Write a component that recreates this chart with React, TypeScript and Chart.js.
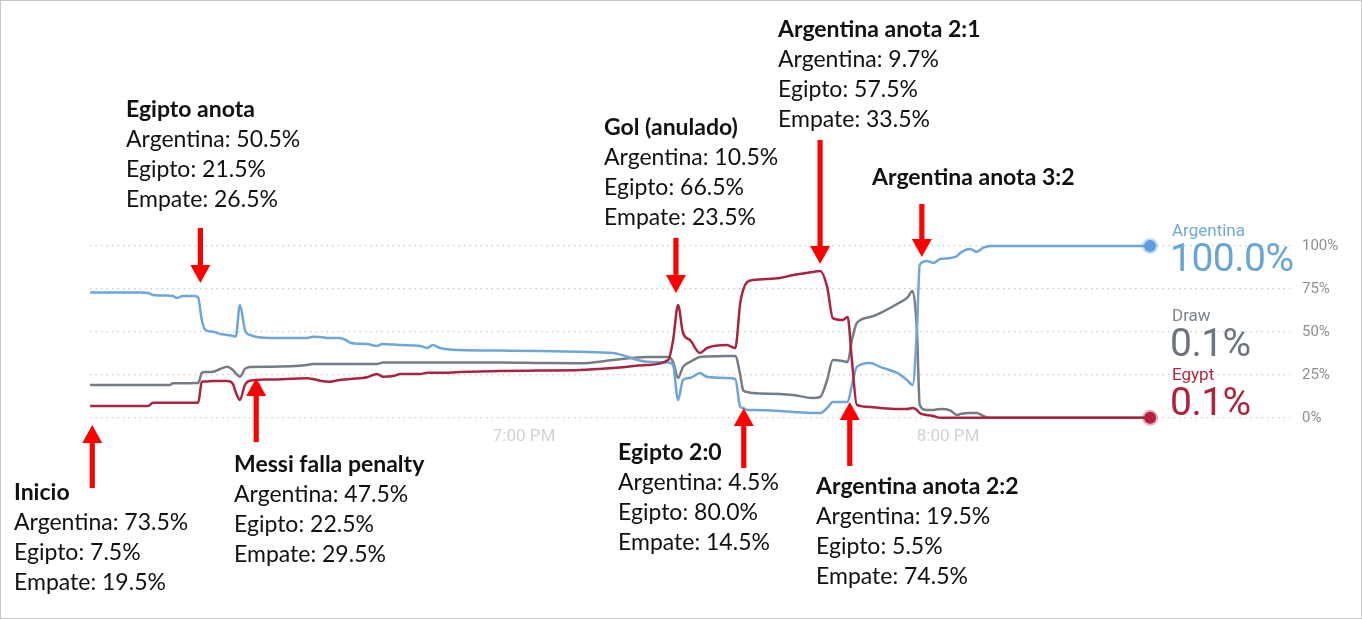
import React, { useEffect, useRef } from "react";
import { Chart, registerables } from "chart.js";

Chart.register(...registerables);

// minutes since 6:00 PM
const times = [
  -1.4, 5.7, 6.8, 7.5, 9.9, 10.3, 10.9, 11.7, 13.4, 13.9, 14.4, 14.9, 16.0, 17.0, 18.0, 18.8, 19.2, 19.8, 20.5, 21.2,
  24.1, 29.3, 30.1, 31.1, 32.5, 33.9, 35.0, 35.4, 37.8, 39.2, 40.0, 41.5, 42.5, 45.3, 46.3, 47.1, 48.1, 50.9, 56.6, 62.3,
  67.9, 72.6, 77.4, 80.4, 81.1, 81.8, 82.5, 83.5, 84.9, 85.9, 88.7, 89.9, 90.6, 91.0, 91.6, 92.4, 96.2, 98.1, 100.9, 101.9,
  102.9, 103.7, 105.1, 105.8, 106.4, 107.1, 109.0, 110.4, 112.8, 114.2, 115.0, 115.6, 116.0, 117.0, 117.9, 118.9, 120.3, 121.3, 121.7, 123.1,
  124.1, 125.0, 126.0, 148.6,
];

const argentina = [
  73.0, 73.0, 72.7, 71.5, 71.1, 70.9, 69.8, 70.9, 70.9, 69.8, 57.0, 51.2, 50.2, 48.8, 48.3, 47.7, 47.4, 65.7, 51.2, 48.3,
  46.5, 46.5, 47.3, 47.1, 46.5, 46.5, 44.8, 43.8, 43.0, 41.9, 43.0, 42.7, 42.4, 41.9, 40.7, 42.4, 40.7, 39.5, 39.2, 39.0,
  38.5, 37.8, 32.7, 32.3, 30.8, 10.5, 22.1, 23.3, 26.2, 23.8, 23.3, 22.7, 6.4, 5.8, 4.7, 4.7, 4.1, 3.5, 2.9, 2.9,
  5.8, 9.3, 9.3, 9.3, 19.2, 29.7, 32.0, 29.7, 26.2, 22.1, 19.2, 51.2, 89.0, 91.3, 90.1, 92.4, 93.0, 94.2, 95.9, 98.3,
  96.7, 99.0, 100, 100,
];

const draw = [
  19.2, 19.2, 19.2, 19.2, 19.2, 20.2, 20.2, 20.2, 20.3, 20.3, 26.2, 26.7, 26.9, 28.5, 29.8, 27.9, 26.0, 24.0, 28.5, 29.7,
  29.8, 30.8, 31.4, 31.4, 31.4, 31.4, 31.4, 31.4, 31.4, 31.4, 32.2, 32.2, 32.2, 32.2, 32.2, 32.2, 32.2, 32.3, 32.3, 32.0,
  31.8, 33.7, 35.5, 35.5, 32.6, 23.3, 29.7, 32.6, 35.5, 35.8, 36.0, 36.0, 25.0, 16.3, 15.1, 14.5, 14.0, 13.4, 11.6, 12.2,
  22.1, 33.7, 33.1, 32.6, 45.3, 55.2, 58.7, 61.0, 66.3, 69.8, 73.8, 51.2, 7.6, 4.7, 4.7, 5.2, 4.4, 1.7, 2.3, 2.9,
  2.9, 1.2, 0.1, 0.1,
];

const egypt = [
  7.0, 7.0, 7.0, 8.9, 8.9, 8.9, 8.9, 8.9, 8.9, 8.9, 21.1, 21.2, 21.5, 21.5, 21.5, 19.8, 15.1, 10.5, 19.2, 21.7,
  22.4, 23.1, 22.7, 21.7, 21.1, 22.1, 22.5, 22.7, 23.7, 25.6, 24.0, 24.4, 25.6, 25.6, 26.3, 26.3, 26.3, 26.7, 27.3, 27.6,
  27.9, 29.1, 30.8, 33.7, 45.3, 65.7, 49.4, 45.3, 37.8, 40.7, 42.4, 40.7, 66.9, 74.4, 79.1, 80.2, 81.4, 83.1, 84.9, 85.5,
  76.2, 58.1, 57.0, 58.7, 33.7, 7.6, 6.4, 5.8, 5.2, 5.2, 5.8, 4.7, 2.9, 1.7, 1.2, 0.1, 0.1, 0.1, 0.1, 0.1,
  0.1, 0.1, 0.1, 0.1,
];

const xTickValues = [60, 120];
const xTickLabels = ["7:00 PM", "8:00 PM"];
const yTickValues = [0, 25, 50, 75, 100];

// Event arrows: time (x), tip value, tail value (y units)
const arrowTimes = [-1.1, 14.2, 22.1, 81.5, 101.9, 116.3, 91.1, 106.1];
const arrowTips = [-4.1, 78.5, 23.3, 72.7, 89.5, 93.6, 5.8, 9.3];
const arrowTails = [-40.7, 110.5, -14.0, 104.7, 161.6, 124.4, -29.1, -27.9];

const eventTitles = [
  "Inicio",
  "Egipto anota",
  "Messi falla penalty",
  "Gol (anulado)",
  "Argentina anota 2:1",
  "Argentina anota 3:2",
  "Egipto 2:0",
  "Argentina anota 2:2",
];
const eventLines = [
  ["Argentina: 73.5%", "Egipto: 7.5%", "Empate: 19.5%"],
  ["Argentina: 50.5%", "Egipto: 21.5%", "Empate: 26.5%"],
  ["Argentina: 47.5%", "Egipto: 22.5%", "Empate: 29.5%"],
  ["Argentina: 10.5%", "Egipto: 66.5%", "Empate: 23.5%"],
  ["Argentina: 9.7%", "Egipto: 57.5%", "Empate: 33.5%"],
  [],
  ["Argentina: 4.5%", "Egipto: 80.0%", "Empate: 14.5%"],
  ["Argentina: 19.5%", "Egipto: 5.5%", "Empate: 74.5%"],
];
const eventPos = [
  [14, 476],
  [126, 93],
  [234, 448],
  [604, 111],
  [778, 13],
  [872, 161],
  [618, 436],
  [816, 470],
];

const seriesNames = ["Argentina", "Draw", "Egypt"];
const seriesFinal = ["100.0%", "0.1%", "0.1%"];

const BLUE = "#6ea6d9";
const GREY = "#757c86";
const RED = "#a8243f";

const arrowPlugin = {
  id: "eventArrows",
  afterDatasetsDraw(chart: any) {
    const { ctx, scales } = chart;
    const xs = scales.x;
    const ys = scales.y;
    ctx.save();
    ctx.fillStyle = "#ff0000";
    for (let i = 0; i < arrowTimes.length; i++) {
      const x = xs.getPixelForValue(arrowTimes[i]);
      const tip = ys.getPixelForValue(arrowTips[i]);
      const tail = ys.getPixelForValue(arrowTails[i]);
      const dir = tail > tip ? 1 : -1;
      const headLen = 18;
      const headHalf = 10;
      const shaftHalf = 2.6;
      const headBase = tip + dir * headLen;
      ctx.beginPath();
      ctx.rect(x - shaftHalf, Math.min(headBase, tail), shaftHalf * 2, Math.abs(tail - headBase));
      ctx.fill();
      ctx.beginPath();
      ctx.moveTo(x, tip);
      ctx.lineTo(x - headHalf, headBase);
      ctx.lineTo(x + headHalf, headBase);
      ctx.closePath();
      ctx.fill();
    }
    ctx.restore();
  },
};

function lastOnly(n: number, r: number) {
  return (c: any) => (c.dataIndex === n - 1 ? r : 0);
}

export default function App() {
  const ref = useRef<HTMLCanvasElement | null>(null);

  useEffect(() => {
    if (!ref.current) return;
    const n = times.length;
    const mk = (vals: number[]) => vals.map((v, i) => ({ x: times[i], y: v }));
    const chart = new Chart(ref.current, {
      type: "line",
      data: {
        datasets: [
          {
            label: "Egypt",
            data: mk(egypt),
            borderColor: RED,
            backgroundColor: RED,
            pointBackgroundColor: "#b81f3d",
            pointBorderColor: "rgba(184,31,61,0.35)",
            pointBorderWidth: 4,
            pointRadius: lastOnly(n, 6),
            borderWidth: 2.5,
            cubicInterpolationMode: "monotone",
            clip: false,
          },
          {
            label: "Argentina",
            data: mk(argentina),
            borderColor: BLUE,
            backgroundColor: BLUE,
            pointBackgroundColor: "#5c9ee0",
            pointBorderColor: "rgba(92,158,224,0.35)",
            pointBorderWidth: 4,
            pointRadius: lastOnly(n, 6),
            borderWidth: 2.5,
            cubicInterpolationMode: "monotone",
            clip: false,
          },
          {
            label: "Draw",
            data: mk(draw),
            borderColor: GREY,
            backgroundColor: GREY,
            pointRadius: 0,
            borderWidth: 2.5,
            cubicInterpolationMode: "monotone",
            clip: false,
          },
        ],
      } as any,
      options: {
        responsive: false,
        animation: false,
        events: [],
        layout: { padding: { left: 90, top: 246, right: 0, bottom: 162 } },
        plugins: { legend: { display: false }, tooltip: { enabled: false } },
        scales: {
          x: {
            type: "linear",
            min: -1.42,
            max: 168.4,
            grid: { display: false },
            border: { display: false },
            afterBuildTicks: (axis: any) => {
              axis.ticks = xTickValues.map((v) => ({ value: v }));
            },
            afterFit: (axis: any) => {
              axis.height = 40;
            },
            ticks: {
              autoSkip: false,
              maxRotation: 0,
              padding: 1,
              color: "#d2d2d2",
              font: { family: "Roboto", size: 17 },
              callback: (v: any) => {
                const i = xTickValues.indexOf(Number(v));
                return i >= 0 ? xTickLabels[i] : "";
              },
            },
          },
          y: {
            position: "right",
            min: 0,
            max: 100,
            afterBuildTicks: (axis: any) => {
              axis.ticks = yTickValues.map((v) => ({ value: v }));
            },
            afterFit: (axis: any) => {
              axis.width = 72;
            },
            grid: {
              color: "#c9c9c9",
              lineWidth: 1.3,
              drawTicks: false,
            },
            border: { display: false, dash: [1.5, 4] },
            ticks: {
              padding: 12,
              color: "#8e8e8e",
              font: { family: "Roboto", size: 15 },
              callback: (v: any) => `${v}%`,
            },
          },
        },
      } as any,
      plugins: [arrowPlugin],
    });
    return () => chart.destroy();
  }, []);

  const legendColors = [
    ["#72a8da", "#6aa4d9"],
    ["#7d848c", "#6c747d"],
    ["#b3283f", "#b0223c"],
  ];
  const legendTops = [230, 315, 374];
  const valueTops = [258, 343, 402];

  return (
    <div
      style={{
        position: "absolute",
        left: 0,
        top: 0,
        width: 1362,
        height: 620,
        background: "#fff",
        overflow: "hidden",
      }}
    >
      <canvas ref={ref} width={1362} height={620} style={{ display: "block" }} />
      {eventTitles.map((t, i) => (
        <div
          key={i}
          style={{
            position: "absolute",
            left: eventPos[i][0],
            top: eventPos[i][1],
            fontFamily: "Lato, sans-serif",
            fontSize: 23,
            lineHeight: "30px",
            color: "#111",
            whiteSpace: "nowrap",
          }}
        >
          <div style={{ fontWeight: 700 }}>{t}</div>
          {eventLines[i].map((l, j) => (
            <div key={j}>{l}</div>
          ))}
        </div>
      ))}
      {seriesNames.map((s, i) => (
        <React.Fragment key={s}>
          <div
            style={{
              position: "absolute",
              left: 1172,
              top: legendTops[i] - 10,
              fontFamily: "Roboto, sans-serif",
              fontSize: 17,
              lineHeight: "20px",
              color: legendColors[i][0],
            }}
          >
            {s}
          </div>
          <div
            style={{
              position: "absolute",
              left: 1170,
              top: valueTops[i] - 22,
              fontFamily: "Roboto, sans-serif",
              fontSize: 39,
              lineHeight: "44px",
              color: legendColors[i][1],
              letterSpacing: -0.5,
            }}
          >
            {seriesFinal[i]}
          </div>
        </React.Fragment>
      ))}
      <div
        style={{
          position: "absolute",
          left: 0,
          top: 0,
          width: 1362,
          height: 619,
          boxSizing: "border-box",
          border: "1px solid #c8c8c8",
          pointerEvents: "none",
        }}
      />
    </div>
  );
}
